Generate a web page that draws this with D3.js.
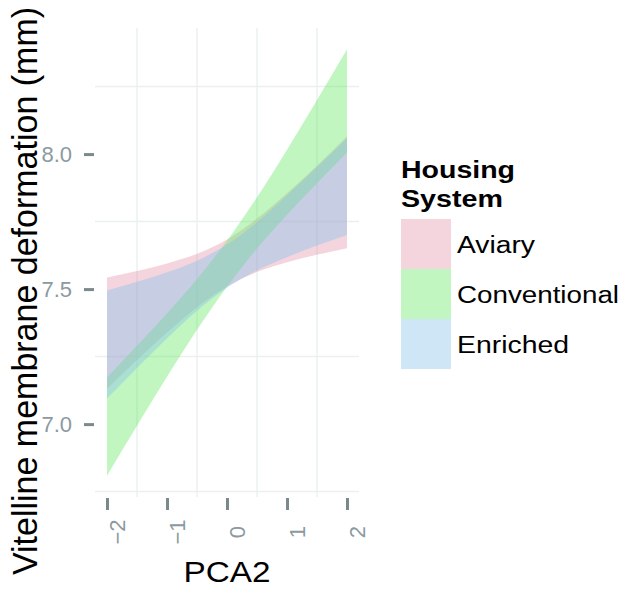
<!DOCTYPE html>
<html>
<head>
<meta charset="utf-8">
<script src="https://cdn.jsdelivr.net/npm/d3@7"></script>
<style>
  body { margin: 0; background: #fff; }
  text { font-family: "Liberation Sans", Arial, sans-serif; }
</style>
</head>
<body>
<div id="chart"></div>
<script>
// ---- data ----
const xs = [-2, -1.5, -1, -0.5, 0, 0.5, 1, 1.5, 2];

const aviaryLower = [7.131, 7.237, 7.339, 7.433, 7.510, 7.563, 7.599, 7.627, 7.651];
const aviaryUpper = [7.543, 7.567, 7.595, 7.631, 7.684, 7.761, 7.855, 7.957, 8.066];

const conventionalLower = [6.809, 6.994, 7.175, 7.349, 7.509, 7.650, 7.775, 7.892, 8.006];
const conventionalUpper = [7.173, 7.290, 7.410, 7.537, 7.679, 7.840, 8.016, 8.200, 8.388];

const enrichedLower = [7.095, 7.208, 7.318, 7.420, 7.505, 7.569, 7.618, 7.661, 7.700];
const enrichedUpper = [7.495, 7.527, 7.562, 7.605, 7.665, 7.748, 7.848, 7.952, 8.060];

const groups = ["Aviary", "Conventional", "Enriched"];
const colors = ["rgb(228,150,173)", "rgb(100,233,100)", "rgb(133,193,233)"];

const xTicks = [-2, -1, 0, 1, 2];
const yTicks = [7.0, 7.5, 8.0];
const xGrid = [-1.5, -0.5, 0.5, 1.5];
const yGrid = [6.75, 7.25, 7.75, 8.25];

const bands = [
  { name: groups[0], lower: aviaryLower, upper: aviaryUpper },
  { name: groups[1], lower: conventionalLower, upper: conventionalUpper },
  { name: groups[2], lower: enrichedLower, upper: enrichedUpper }
];

// ---- layout ----
const width = 640, height = 593;
const panel = { left: 95, right: 359, top: 28, bottom: 497 };
const alpha = 0.4;
const tickGray = "#8b9aa0";

const svg = d3.select("#chart").append("svg")
  .attr("width", width)
  .attr("height", height);

svg.append("rect").attr("width", width).attr("height", height).attr("fill", "#fff");

// ggplot style 5% expansion
const xExt = d3.extent(xs);
const xPad = (xExt[1] - xExt[0]) * 0.05;
const allY = bands.flatMap(b => b.lower.concat(b.upper));
const yExt = d3.extent(allY);
const yPad = (yExt[1] - yExt[0]) * 0.05;

const x = d3.scaleLinear()
  .domain([xExt[0] - xPad, xExt[1] + xPad])
  .range([panel.left, panel.right]);

const y = d3.scaleLinear()
  .domain([yExt[0] - yPad, yExt[1] + yPad])
  .range([panel.bottom, panel.top]);

// grid (only the minor lines are visible)
const grid = svg.append("g").attr("stroke", "#eaf0f0").attr("stroke-width", 1.5);
grid.selectAll(".gx").data(xGrid).join("line")
  .attr("x1", d => x(d)).attr("x2", d => x(d))
  .attr("y1", panel.top).attr("y2", panel.bottom);
grid.selectAll(".gy").data(yGrid).join("line")
  .attr("x1", panel.left).attr("x2", panel.right)
  .attr("y1", d => y(d)).attr("y2", d => y(d));

// ribbons
const area = d3.area()
  .x((d, i) => x(xs[i]))
  .y0(d => y(d[0]))
  .y1(d => y(d[1]))
  .curve(d3.curveMonotoneX);

svg.append("g")
  .selectAll("path")
  .data(bands)
  .join("path")
  .attr("fill", (d, i) => colors[i])
  .attr("fill-opacity", alpha)
  .attr("d", d => area(d.lower.map((v, i) => [v, d.upper[i]])));

// y axis
const yAxis = svg.append("g")
  .attr("transform", `translate(${panel.left},0)`)
  .call(d3.axisLeft(y).tickValues(yTicks).tickFormat(d3.format(".1f")).tickSize(11).tickPadding(12));
yAxis.select(".domain").remove();
yAxis.selectAll("line").attr("stroke", "#7b898c").attr("stroke-width", 3).attr("x2", -11).attr("x1", -1);
yAxis.selectAll("text")
  .attr("fill", tickGray)
  .attr("font-size", 22)
  .attr("font-family", "Liberation Sans, Arial, sans-serif");

// x axis
const xAxis = svg.append("g")
  .attr("transform", `translate(0,${panel.bottom})`)
  .call(d3.axisBottom(x).tickValues(xTicks).tickFormat(d3.format("d")).tickSize(13));
xAxis.select(".domain").remove();
xAxis.selectAll("line").attr("stroke", "#7b898c").attr("stroke-width", 3).attr("y1", 1);
xAxis.selectAll("text")
  .attr("fill", tickGray)
  .attr("font-size", 22)
  .attr("font-family", "Liberation Sans, Arial, sans-serif")
  .attr("x", 0).attr("y", 0).attr("dy", null)
  .attr("text-anchor", "middle")
  .attr("transform", "translate(17,35) rotate(-90)");

// axis titles
svg.append("text")
  .attr("x", x(0)).attr("y", 582)
  .attr("text-anchor", "middle")
  .attr("font-size", 30)
  .attr("textLength", 87).attr("lengthAdjust", "spacingAndGlyphs")
  .text("PCA2");

svg.append("text")
  .attr("transform", "translate(37,291) rotate(-90) scale(1,1.05)")
  .attr("text-anchor", "middle")
  .attr("font-size", 34)
  .text("Vitelline membrane deformation (mm)");

// legend
const legend = svg.append("g").attr("transform", "translate(401,0)");
legend.append("text")
  .attr("x", 0).attr("y", 178)
  .attr("font-size", 23.5).attr("font-weight", "bold")
  .attr("textLength", 114).attr("lengthAdjust", "spacingAndGlyphs")
  .text("Housing");
legend.append("text")
  .attr("x", 0).attr("y", 207)
  .attr("font-size", 23.5).attr("font-weight", "bold")
  .attr("textLength", 102).attr("lengthAdjust", "spacingAndGlyphs")
  .text("System");

const keyW = 50, keyH = 50, keyTop = 219;
const labelLen = [78, 162, 112];
const item = legend.selectAll(".item")
  .data(groups)
  .join("g")
  .attr("transform", (d, i) => `translate(0,${keyTop + i * keyH})`);
item.append("rect")
  .attr("width", keyW).attr("height", keyH)
  .attr("fill", (d, i) => colors[i])
  .attr("fill-opacity", alpha);
item.append("text")
  .attr("x", 56).attr("y", keyH / 2 + 9)
  .attr("font-size", 23.5)
  .attr("textLength", (d, i) => labelLen[i]).attr("lengthAdjust", "spacingAndGlyphs")
  .text(d => d);
</script>
</body>
</html>
